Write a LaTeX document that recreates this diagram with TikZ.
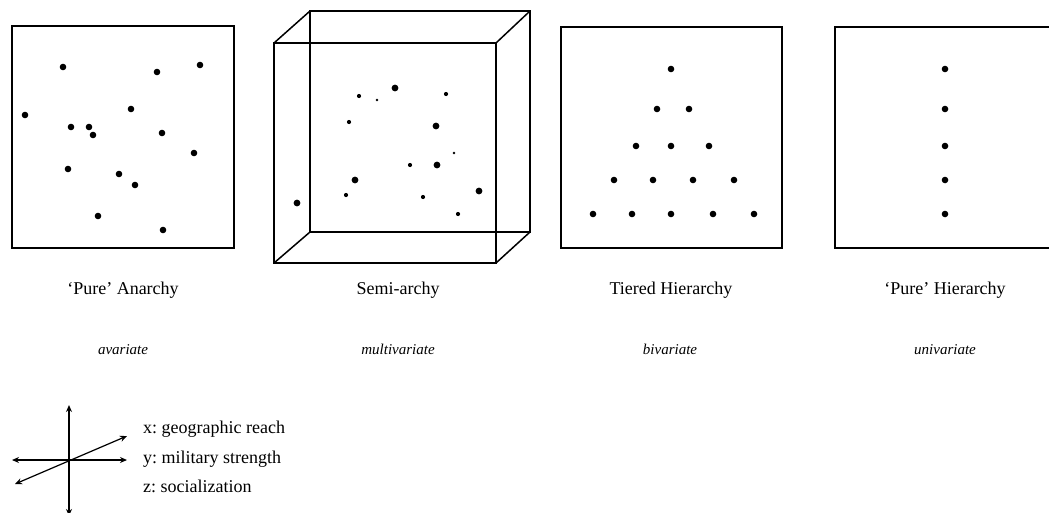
\documentclass[tikz,border=0pt]{standalone}
\usepackage{fontspec}
\setmainfont{Liberation Serif}
\usetikzlibrary{arrows.meta}
\begin{document}
\frenchspacing
\begin{tikzpicture}[x=1pt,y=-1pt,
  frame/.style={line width=1.5pt, line join=miter},
  title/.style={anchor=base, inner sep=0pt, font=\fontsize{18}{22}\selectfont},
  kind/.style={anchor=base, inner sep=0pt, font=\fontsize{15}{18}\selectfont\itshape},
  legend/.style={anchor=base west, inner sep=0pt, font=\fontsize{18}{22}\selectfont},
  axis/.style={line width=1.2pt, {Stealth[length=7pt,width=6pt]}-{Stealth[length=7pt,width=6pt]}}]
\useasboundingbox (0,0) rectangle (1049,512);
\clip (0,0) rectangle (1049,512);
\fill[white] (0,0) rectangle (1049,512);

% Box 1: Pure Anarchy
\draw[frame] (12,26) rectangle (234,248);
\foreach \p in {(63,67),(157,72),(200,65),(25,115),(131,109),(71,127),(89,127),(93,135),(162,133),(194,153),(68,169),(119,174),(135,185),(98,216),(163,230)}
  \fill \p circle (3.3);

% Box 2: Semi-archy (cube)
\draw[frame] (310,11) rectangle (530,232);
\draw[frame] (274,43) rectangle (496,263);
\draw[frame] (274,43) -- (310,11);
\draw[frame] (496,43) -- (530,11);
\draw[frame] (274,263) -- (310,232);
\draw[frame] (496,263) -- (530,232);
\foreach \p in {(297,203),(395,88),(436,126),(437,165),(355,180),(479,191)}
  \fill \p circle (3.4);
\foreach \p in {(359,96),(446,94),(349,122),(410,165),(346,195),(423,197),(458,214)}
  \fill \p circle (2.1);
\foreach \p in {(377,100),(454,153)}
  \fill \p circle (1.4);

% Box 3: Tiered Hierarchy
\draw[frame] (561,27) rectangle (782,248);
\foreach \p in {(671,69),(657,109),(689,109),(636,146),(671,146),(709,146),(614,180),(653,180),(693,180),(734,180),(593,214),(632,214),(671,214),(713,214),(754,214)}
  \fill \p circle (3.3);

% Box 4: Pure Hierarchy
\draw[frame] (835,27) rectangle (1052,248);
\foreach \p in {(945,69),(945,109),(945,146),(945,180),(945,214)}
  \fill \p circle (3.3);

% Titles
\node[title] (t1) at (123,294) {`Pure' Anarchy};
\node[title] (t2) at (398,294) {Semi-archy};
\node[title] (t3) at (671,294) {Tiered Hierarchy};
\node[title] (t4) at (945,294) {`Pure' Hierarchy};

\node[kind] (k1) at (123,354) {avariate};
\node[kind] (k2) at (398,354) {multivariate};
\node[kind] (k3) at (670,354) {bivariate};
\node[kind] (k4) at (945,354) {univariate};

% Legend axes
\coordinate (vtop) at (69,405);
\coordinate (vbot) at (69,516);
\coordinate (hl) at (12,460);
\coordinate (hr) at (127,460);
\coordinate (dl) at (15,484);
\coordinate (dr) at (127,436);
\draw[axis] (vbot) -- (vtop);
\draw[axis] (hl) -- (hr);
\draw[axis] (dl) -- (dr);

\node[legend] (lx) at (143,433) {x: geographic reach};
\node[legend] (ly) at (143,463) {y: military strength};
\node[legend] (lz) at (143,492) {z: socialization};
\end{tikzpicture}
\end{document}
